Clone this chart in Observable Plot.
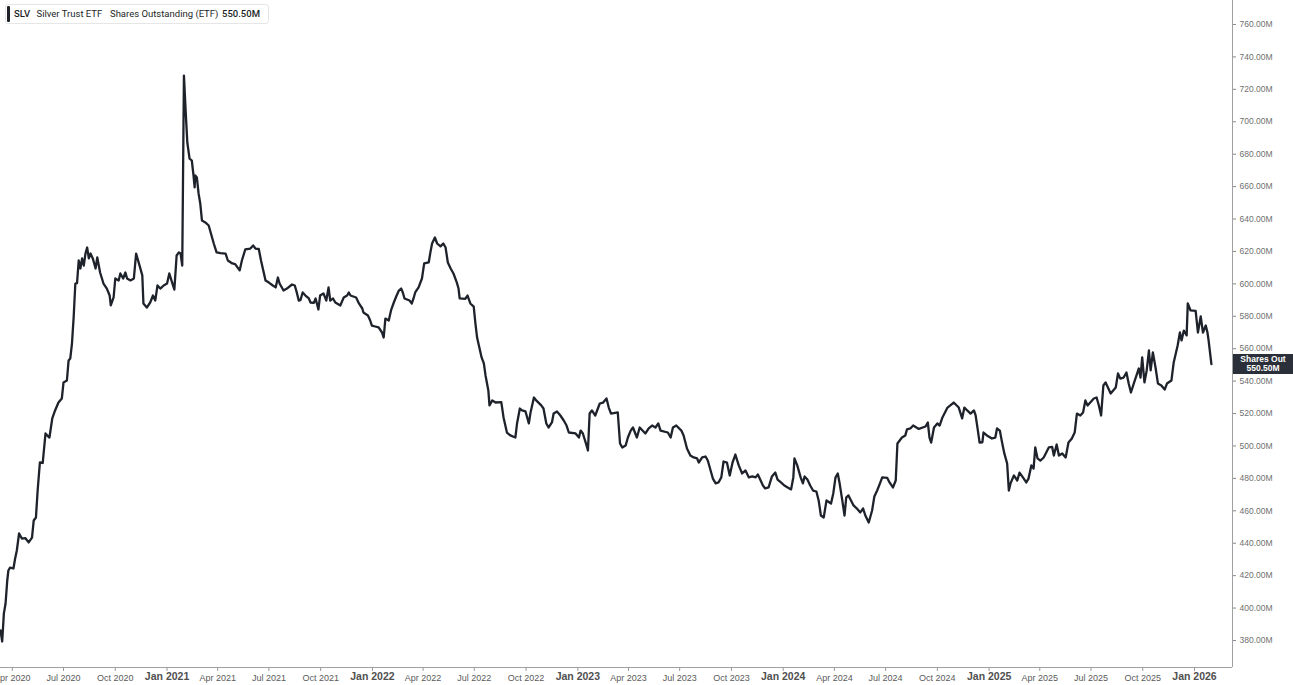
<!DOCTYPE html>
<html><head><meta charset="utf-8">
<script src="https://cdn.jsdelivr.net/npm/d3@7"></script>
<script src="https://cdn.jsdelivr.net/npm/@observablehq/plot@0.6"></script>
<style>
html,body{margin:0;padding:0;background:#fff;overflow:hidden}
#wrap{position:relative;width:1293px;height:685px}
.legend{position:absolute;left:5px;top:4px;width:262px;height:18px;border:1px solid #e6e6e6;border-radius:3px;background:#fff;font-family:Roboto,sans-serif;font-size:9.5px;color:#1c1f26}
.legend .bar{position:absolute;left:1px;top:1px;width:3px;height:16px;background:#1f2329;border-radius:1px}
.legend span{position:absolute;top:3px;white-space:nowrap;line-height:12px}
.tag{position:absolute;left:1233px;width:60px;height:19px;background:#2b2f3a;color:#fff;font:bold 8.5px 'Liberation Sans',Arial,sans-serif;text-align:center;line-height:9px;padding-top:1px;box-sizing:content-box}
</style></head><body><div id="wrap"></div>
<script>
const legendItems = ["SLV", "Silver Trust ETF", "Shares Outstanding (ETF)", "550.50M"];
const tagLines = ["Shares Out", "550.50M"];
const yTicks = [380,400,420,440,460,480,500,520,540,560,580,600,620,640,660,680,700,720,740,760];
const quarterTicks = ["2020-04-01","2020-07-01","2020-10-01","2021-04-01","2021-07-01","2021-10-01","2022-04-01","2022-07-01","2022-10-01","2023-04-01","2023-07-01","2023-10-01","2024-04-01","2024-07-01","2024-10-01","2025-04-01","2025-07-01","2025-10-01"];
const yearTicks = ["2021-01-01","2022-01-01","2023-01-01","2024-01-01","2025-01-01","2026-01-01"];
// Shares outstanding (millions)
const sharesOut = [
["2020-03-11",386.2],["2020-03-14",379.4],["2020-03-17",396.7],["2020-03-20",402.8],["2020-03-23",417.0],["2020-03-25",423.2],["2020-03-28",425.0],["2020-04-03",424.4],["2020-04-06",430.6],["2020-04-09",435.5],["2020-04-13",446.0],["2020-04-18",442.9],["2020-04-24",443.2],["2020-04-30",440.5],["2020-05-06",443.5],["2020-05-09",454.0],["2020-05-13",455.9],["2020-05-16",472.5],["2020-05-20",489.8],["2020-05-25",489.5],["2020-05-30",507.7],["2020-06-02",506.5],["2020-06-06",505.2],["2020-06-11",517.0],["2020-06-16",521.9],["2020-06-22",526.8],["2020-06-28",529.3],["2020-07-01",539.2],["2020-07-07",540.4],["2020-07-10",552.7],["2020-07-13",554.0],["2020-07-16",563.2],["2020-07-19",579.3],["2020-07-22",600.2],["2020-07-25",600.5],["2020-07-28",614.4],["2020-07-31",609.5],["2020-08-03",615.7],["2020-08-06",611.3],["2020-08-09",618.7],["2020-08-12",622.4],["2020-08-15",615.7],["2020-08-18",618.7],["2020-08-22",615.7],["2020-08-27",609.5],["2020-08-30",616.3],["2020-09-04",607.0],["2020-09-10",600.2],["2020-09-16",597.1],["2020-09-21",592.8],["2020-09-23",586.7],["2020-09-28",591.6],["2020-10-01",603.3],["2020-10-07",602.1],["2020-10-10",606.4],["2020-10-15",603.3],["2020-10-19",607.0],["2020-10-22",603.3],["2020-10-28",602.1],["2020-11-03",603.3],["2020-11-07",618.7],["2020-11-12",612.6],["2020-11-18",605.2],["2020-11-20",587.9],["2020-11-26",585.4],["2020-12-02",588.5],["2020-12-07",592.8],["2020-12-11",589.7],["2020-12-15",599.0],["2020-12-20",597.1],["2020-12-26",599.0],
["2021-01-01",600.2],["2021-01-05",606.4],["2021-01-10",600.8],["2021-01-14",596.5],["2021-01-18",617.5],["2021-01-22",619.4],["2021-01-25",618.7],["2021-01-28",611.3],["2021-01-31",728.5],["2021-02-03",707.0],["2021-02-06",687.2],["2021-02-10",677.3],["2021-02-14",676.1],["2021-02-17",666.9],["2021-02-19",659.5],["2021-02-20",666.9],["2021-02-23",665.6],["2021-02-26",655.8],["2021-03-01",649.6],["2021-03-04",639.1],["2021-03-10",637.9],["2021-03-16",636.0],["2021-03-20",631.1],["2021-03-25",624.9],["2021-03-30",619.4],["2021-04-06",619.0],["2021-04-15",618.7],["2021-04-19",614.4],["2021-04-27",612.6],["2021-05-02",612.2],["2021-05-10",608.3],["2021-05-14",614.4],["2021-05-20",621.2],["2021-05-29",621.8],["2021-06-03",623.7],["2021-06-07",621.8],["2021-06-13",621.5],["2021-06-17",614.4],["2021-06-21",608.3],["2021-06-25",602.1],["2021-07-01",600.8],["2021-07-08",599.0],["2021-07-13",597.8],["2021-07-17",603.9],["2021-07-20",600.2],["2021-07-27",595.9],["2021-08-02",597.1],["2021-08-11",599.6],["2021-08-16",599.0],["2021-08-20",594.1],["2021-08-23",589.7],["2021-08-26",589.9],["2021-08-30",594.7],["2021-09-04",592.8],["2021-09-10",591.0],["2021-09-13",588.5],["2021-09-19",588.3],["2021-09-22",591.0],["2021-09-27",584.2],["2021-09-30",592.8],["2021-10-06",594.1],["2021-10-11",589.7],["2021-10-15",597.8],["2021-10-18",589.7],["2021-10-23",591.0],["2021-10-27",588.5],["2021-11-05",586.7],["2021-11-11",591.6],["2021-11-17",592.8],["2021-11-20",594.7],["2021-11-23",592.8],["2021-12-03",591.6],["2021-12-08",587.9],["2021-12-14",584.8],["2021-12-16",582.3],["2021-12-24",580.5],["2021-12-28",577.4],["2021-12-31",574.3],
["2022-01-06",573.7],["2022-01-12",573.1],["2022-01-18",570.0],["2022-01-21",566.9],["2022-01-24",578.6],["2022-01-30",577.4],["2022-02-03",583.6],["2022-02-08",588.5],["2022-02-13",592.8],["2022-02-17",595.9],["2022-02-21",597.1],["2022-02-24",594.7],["2022-02-27",591.0],["2022-03-08",589.7],["2022-03-12",587.9],["2022-03-15",591.0],["2022-03-18",594.7],["2022-03-24",597.8],["2022-03-30",603.3],["2022-04-03",612.6],["2022-04-11",613.2],["2022-04-14",619.4],["2022-04-17",624.9],["2022-04-22",628.6],["2022-04-26",624.9],["2022-05-02",623.1],["2022-05-07",624.9],["2022-05-11",622.4],["2022-05-15",613.2],["2022-05-20",609.5],["2022-05-25",606.4],["2022-05-31",600.8],["2022-06-03",597.1],["2022-06-05",591.0],["2022-06-15",590.8],["2022-06-19",592.8],["2022-06-24",587.9],["2022-06-30",586.0],["2022-07-03",575.6],["2022-07-06",566.9],["2022-07-10",560.8],["2022-07-14",554.6],["2022-07-18",550.9],["2022-07-21",543.5],["2022-07-26",534.2],["2022-07-28",525.0],["2022-08-02",528.1],["2022-08-08",526.8],["2022-08-18",527.0],["2022-08-22",517.6],["2022-08-28",508.3],["2022-09-03",506.5],["2022-09-12",505.2],["2022-09-15",513.9],["2022-09-20",523.1],["2022-09-24",521.9],["2022-09-30",521.3],["2022-10-06",513.9],["2022-10-09",520.7],["2022-10-15",529.9],["2022-10-19",528.1],["2022-10-28",525.0],["2022-11-01",523.1],["2022-11-06",513.9],["2022-11-10",511.4],["2022-11-16",514.5],["2022-11-19",520.0],["2022-11-25",521.3],["2022-12-01",518.8],["2022-12-07",515.7],["2022-12-12",512.6],["2022-12-16",508.3],["2022-12-28",507.7],
["2023-01-03",505.2],["2023-01-06",509.5],["2023-01-10",507.7],["2023-01-15",502.1],["2023-01-19",497.2],["2023-01-22",520.0],["2023-01-26",521.9],["2023-02-01",518.8],["2023-02-09",526.2],["2023-02-15",526.8],["2023-02-21",529.3],["2023-02-25",523.7],["2023-03-01",520.0],["2023-03-13",520.7],["2023-03-17",501.5],["2023-03-21",499.1],["2023-03-27",500.3],["2023-03-31",505.2],["2023-04-05",509.5],["2023-04-09",511.4],["2023-04-16",505.2],["2023-04-21",511.4],["2023-05-01",507.7],["2023-05-07",510.8],["2023-05-13",512.6],["2023-05-19",511.4],["2023-05-24",513.9],["2023-05-28",509.5],["2023-06-10",508.3],["2023-06-15",505.2],["2023-06-19",511.4],["2023-06-25",512.6],["2023-07-04",509.5],["2023-07-08",506.5],["2023-07-14",498.4],["2023-07-20",494.1],["2023-07-26",492.9],["2023-08-01",492.3],["2023-08-04",489.8],["2023-08-10",492.9],["2023-08-16",493.5],["2023-08-20",491.0],["2023-08-25",484.9],["2023-08-29",479.9],["2023-09-03",476.9],["2023-09-08",477.5],["2023-09-13",480.6],["2023-09-17",490.4],["2023-09-23",489.8],["2023-09-28",481.8],["2023-10-03",489.8],["2023-10-08",494.7],["2023-10-14",488.0],["2023-10-20",483.0],["2023-10-26",484.9],["2023-11-01",480.6],["2023-11-07",481.2],["2023-11-13",480.6],["2023-11-17",482.4],["2023-11-26",475.6],["2023-11-30",473.8],["2023-12-06",474.4],["2023-12-12",481.2],["2023-12-18",483.6],["2023-12-22",479.3],["2023-12-28",477.5],
["2024-01-03",475.6],["2024-01-09",474.4],["2024-01-15",473.2],["2024-01-19",480.6],["2024-01-21",492.3],["2024-01-26",488.0],["2024-02-01",480.6],["2024-02-05",476.9],["2024-02-08",481.2],["2024-02-13",479.3],["2024-02-18",475.6],["2024-02-23",472.5],["2024-02-29",471.9],["2024-03-04",466.4],["2024-03-08",457.1],["2024-03-13",455.9],["2024-03-18",466.4],["2024-03-26",464.5],["2024-03-30",470.7],["2024-04-03",480.6],["2024-04-07",483.0],["2024-04-10",477.5],["2024-04-15",466.4],["2024-04-19",457.1],["2024-04-22",468.2],["2024-04-26",469.5],["2024-05-05",463.3],["2024-05-11",461.4],["2024-05-17",459.0],["2024-05-22",461.4],["2024-05-26",457.1],["2024-06-01",452.8],["2024-06-07",460.2],["2024-06-11",468.8],["2024-06-16",472.5],["2024-06-21",476.9],["2024-06-25",480.6],["2024-07-04",480.3],["2024-07-08",477.5],["2024-07-14",474.4],["2024-07-19",478.7],["2024-07-22",501.5],["2024-07-30",505.2],["2024-08-05",506.5],["2024-08-08",510.2],["2024-08-14",510.8],["2024-08-19",512.6],["2024-08-29",510.5],["2024-09-10",512.0],["2024-09-14",514.5],["2024-09-17",505.2],["2024-09-20",502.1],["2024-09-25",511.4],["2024-10-01",513.9],["2024-10-05",512.6],["2024-10-10",517.6],["2024-10-19",523.7],["2024-10-24",525.0],["2024-10-30",526.8],["2024-11-08",523.7],["2024-11-14",517.0],["2024-11-18",523.7],["2024-11-23",521.9],["2024-11-29",520.0],["2024-12-05",521.9],["2024-12-08",518.8],["2024-12-12",509.5],["2024-12-15",502.1],["2024-12-20",502.3],["2024-12-22",508.3],["2024-12-28",506.5],
["2025-01-06",504.6],["2025-01-12",505.2],["2025-01-15",510.8],["2025-01-20",509.5],["2025-01-24",502.1],["2025-01-28",495.4],["2025-02-02",489.2],["2025-02-05",472.5],["2025-02-08",476.9],["2025-02-14",481.8],["2025-02-20",478.7],["2025-02-24",483.6],["2025-03-02",480.6],["2025-03-08",477.5],["2025-03-12",479.9],["2025-03-17",488.0],["2025-03-21",486.1],["2025-03-24",499.1],["2025-03-28",492.3],["2025-04-02",491.0],["2025-04-08",492.9],["2025-04-17",499.1],["2025-04-23",499.4],["2025-04-26",494.1],["2025-05-01",500.9],["2025-05-05",494.1],["2025-05-11",495.4],["2025-05-17",492.9],["2025-05-22",502.1],["2025-05-28",504.6],["2025-06-02",508.3],["2025-06-06",520.0],["2025-06-12",518.8],["2025-06-17",520.7],["2025-06-21",528.1],["2025-06-25",525.0],["2025-07-06",529.3],["2025-07-11",529.9],["2025-07-15",525.0],["2025-07-19",518.8],["2025-07-23",537.3],["2025-07-27",539.2],["2025-08-05",532.4],["2025-08-14",536.1],["2025-08-18",544.7],["2025-08-22",541.6],["2025-08-28",542.2],["2025-09-02",545.3],["2025-09-06",538.5],["2025-09-10",533.0],["2025-09-15",538.5],["2025-09-24",547.8],["2025-09-27",542.2],["2025-09-30",554.6],["2025-10-04",539.2],["2025-10-08",546.6],["2025-10-12",558.9],["2025-10-15",546.6],["2025-10-19",557.7],["2025-10-24",547.8],["2025-10-28",538.5],["2025-11-03",537.3],["2025-11-09",534.8],["2025-11-13",538.5],["2025-11-21",540.4],["2025-11-25",551.5],["2025-12-02",562.0],["2025-12-06",570.0],["2025-12-09",565.1],["2025-12-13",571.2],["2025-12-18",568.2],["2025-12-20",587.9],["2025-12-25",583.6],
["2026-01-03",583.3],["2026-01-07",570.0],["2026-01-12",579.9],["2026-01-16",570.0],["2026-01-21",574.3],["2026-01-24",570.0],["2026-01-26",565.1],["2026-01-31",550.5]
];

const toDate = s => new Date(s + "T00:00:00Z");
const data = sharesOut.map(([d, v]) => ({date: toDate(d), value: v}));
const xDomain = [toDate("2020-03-11"), new Date("2026-03-09T12:00:00Z")];
const yDomain = [363.34, 774.8];
const fmtMonth = d3.utcFormat("%b %Y");

const chart = Plot.plot({
  width: 1293, height: 685,
  marginLeft: 0, marginRight: 61, marginTop: 0, marginBottom: 18,
  style: {fontFamily: "'Liberation Sans', Arial, sans-serif", background: "#fff"},
  x: {type: "utc", domain: xDomain},
  y: {domain: yDomain},
  marks: [
    Plot.ruleY([yDomain[0]], {stroke: "#a0a0a0", strokeWidth: 1}),
    Plot.ruleX([xDomain[1]], {stroke: "#a0a0a0", strokeWidth: 1}),
    Plot.axisY({anchor: "right", ticks: yTicks, tickFormat: d => d.toFixed(2) + "M", tickSize: 3, tickPadding: 4, fontSize: 8.5, fill: "#707070", stroke: "#8a8a8a", label: null}),
    Plot.axisX({ticks: quarterTicks.map(toDate), tickFormat: fmtMonth, tickSize: 4, tickPadding: 3, fontSize: 9, fill: "#5a5a5a", stroke: "#9a9a9a", label: null}),
    Plot.axisX({ticks: yearTicks.map(toDate), tickFormat: fmtMonth, tickSize: 4, tickPadding: 1.5, fontSize: 10.5, fontWeight: "bold", fill: "#505050", stroke: "#9a9a9a", label: null}),
    Plot.line(data, {x: "date", y: "value", stroke: "#1e222b", strokeWidth: 2.3, strokeLinejoin: "round"})
  ]
});

const wrap = document.getElementById("wrap");
wrap.appendChild(chart);

// legend overlay
const lg = document.createElement("div");
lg.className = "legend";
lg.innerHTML = '<div class="bar"></div>';
const lefts = [8, 30.5, 104, 216];
legendItems.forEach((t, i) => {
  const s = document.createElement("span");
  s.textContent = t;
  s.style.left = lefts[i] + "px";
  if (i === 0 || i === 3) s.style.fontWeight = "500";
  lg.appendChild(s);
});
wrap.appendChild(lg);

// last value tag positioned with the y scale
const last = data[data.length - 1];
const yPix = chart.scale("y").apply(last.value);
const tag = document.createElement("div");
tag.className = "tag";
tag.style.top = (yPix - 10) + "px";
tag.innerHTML = tagLines.join("<br>");
wrap.appendChild(tag);
</script></body></html>
